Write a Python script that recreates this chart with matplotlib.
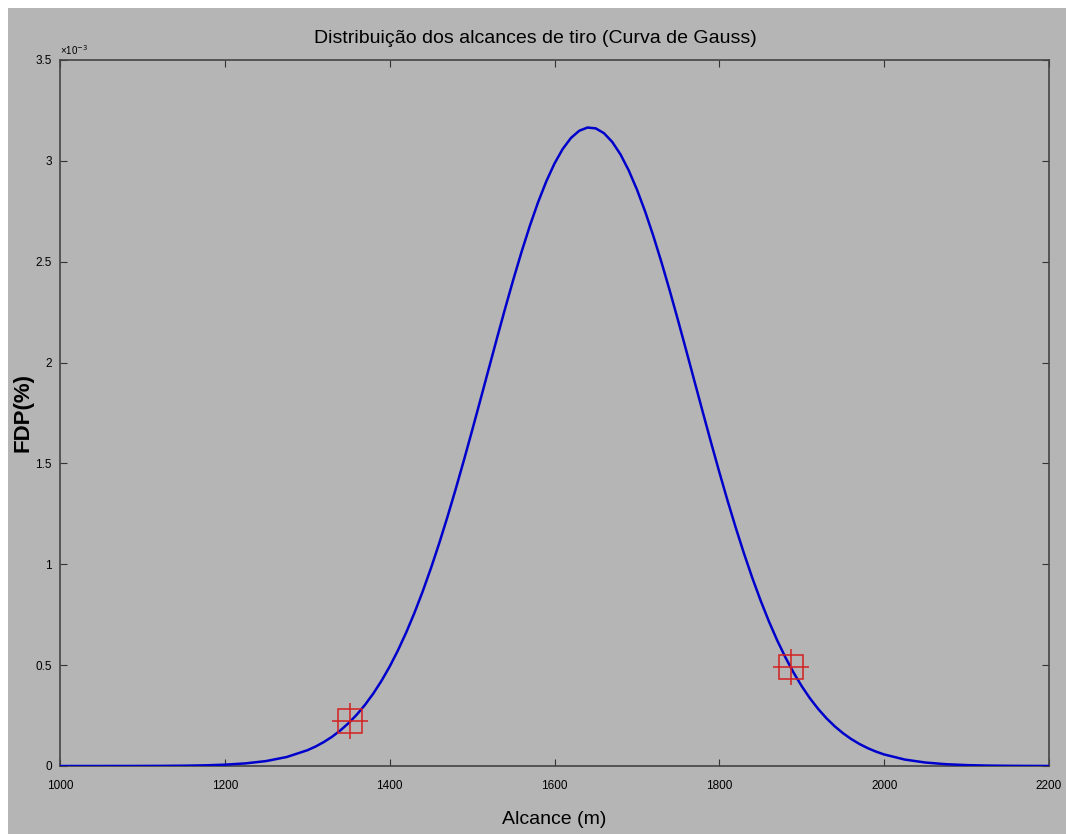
import matplotlib
matplotlib.use("Agg")
import matplotlib.pyplot as plt
from matplotlib.patches import Rectangle
from matplotlib.ticker import FuncFormatter

# Curve values (x in m, y in units of 1e-3)
alcance = [1000, 1025, 1050, 1075, 1100, 1125, 1150, 1175, 1200, 1225, 1250, 1275,
           1300, 1310, 1320, 1330, 1340, 1350, 1360, 1370, 1380, 1390,
           1400, 1410, 1420, 1430, 1440, 1450, 1460, 1470, 1480, 1490,
           1500, 1510, 1520, 1530, 1540, 1550, 1560, 1570, 1580, 1590,
           1600, 1610, 1620, 1630, 1640, 1650, 1660, 1670, 1680, 1690,
           1700, 1710, 1720, 1730, 1740, 1750, 1760, 1770, 1780, 1790,
           1800, 1810, 1820, 1830, 1840, 1850, 1860, 1870, 1880, 1890,
           1900, 1910, 1920, 1930, 1940, 1950, 1960, 1970, 1980, 1990,
           2000, 2025, 2050, 2075, 2100, 2125, 2150, 2175, 2200]
fdp_e3 = [0.0000, 0.0000, 0.0000, 0.0001, 0.0003, 0.0007, 0.0015, 0.0032, 0.0066, 0.0129, 0.0244, 0.0445,
          0.0779, 0.0963, 0.1185, 0.1447, 0.1758, 0.2120, 0.2541, 0.3028, 0.3585, 0.4217,
          0.4929, 0.5727, 0.6613, 0.7586, 0.8647, 0.9796, 1.1028, 1.2335, 1.3712, 1.5147,
          1.6627, 1.8138, 1.9659, 2.1177, 2.2668, 2.4111, 2.5484, 2.6769, 2.7940, 2.8980,
          2.9869, 3.0592, 3.1137, 3.1492, 3.1651, 3.1611, 3.1373, 3.0941, 3.0324, 2.9532,
          2.8580, 2.7486, 2.6267, 2.4945, 2.3541, 2.2075, 2.0572, 1.9049, 1.7530, 1.6030,
          1.4566, 1.3153, 1.1802, 1.0525, 0.9326, 0.8212, 0.7185, 0.6247, 0.5398, 0.4635,
          0.3955, 0.3353, 0.2825, 0.2366, 0.1968, 0.1627, 0.1337, 0.1092, 0.0886, 0.0714,
          0.0572, 0.0319, 0.0172, 0.0089, 0.0044, 0.0021, 0.0010, 0.0004, 0.0002]
marcas_x = [1352, 1887]
marcas_e3 = [0.224, 0.49]

xticks = [1000, 1200, 1400, 1600, 1800, 2000, 2200]
yticks_e3 = [0, 0.5, 1, 1.5, 2, 2.5, 3, 3.5]

titulo = "Distribuição dos alcances de tiro (Curva de Gauss)"
xlab = "Alcance (m)"
ylab = "FDP(%)"

fdp = [v * 1e-3 for v in fdp_e3]
marcas_y = [v * 1e-3 for v in marcas_e3]

W, H = 1066, 834
gray = "#b5b5b5"
fig = plt.figure(figsize=(W / 100, H / 100), dpi=100, facecolor="white")
fig.patches.append(Rectangle((8 / W, 0), 1 - 8 / W, 1 - 8 / H, transform=fig.transFigure,
                             facecolor=gray, edgecolor="none", zorder=-10))

ax = fig.add_axes([60 / W, (H - 766) / H, (1049 - 60) / W, (766 - 60) / H])
ax.set_facecolor(gray)

ax.plot(alcance, fdp, color="#0000cc", lw=1.8, zorder=3, solid_joinstyle="round")
ax.plot(marcas_x, marcas_y, ls="none", marker="s", ms=17, mfc="none", mec="#d42020",
        mew=1.1, zorder=4)
ax.plot(marcas_x, marcas_y, ls="none", marker="+", ms=26, mec="#d42020", mew=1.1, zorder=4)

ax.set_xlim(1000, 2200)
ax.set_ylim(0, 3.5e-3)
ax.set_xticks(xticks)
ax.set_yticks([v * 1e-3 for v in yticks_e3])
ax.yaxis.set_major_formatter(FuncFormatter(lambda v, p: f"{v * 1e3:g}"))

font = "Liberation Sans"
ax.tick_params(direction="in", length=5, width=0.8, color="#333333", top=True, right=True,
               labelsize=8.5)
ax.tick_params(axis="x", pad=10)
ax.tick_params(axis="y", pad=6)
for lab in ax.get_xticklabels() + ax.get_yticklabels():
    lab.set_family(font)
for s in ax.spines.values():
    s.set_color("#444444")
    s.set_linewidth(1.2)

ax.text(0.0, 1.004, "×10$^{-3}$", transform=ax.transAxes, fontsize=7, family=font,
        ha="left", va="bottom")
ax.set_title(titulo, fontsize=14, family=font, x=0.481, pad=12)
ax.set_xlabel(xlab, fontsize=14, family=font, labelpad=14)
ax.set_ylabel(ylab, fontsize=16, family=font, fontweight="bold")
ax.yaxis.set_label_coords(-0.027, 0.5)

fig.savefig("out.png", dpi=100, facecolor=fig.get_facecolor())
